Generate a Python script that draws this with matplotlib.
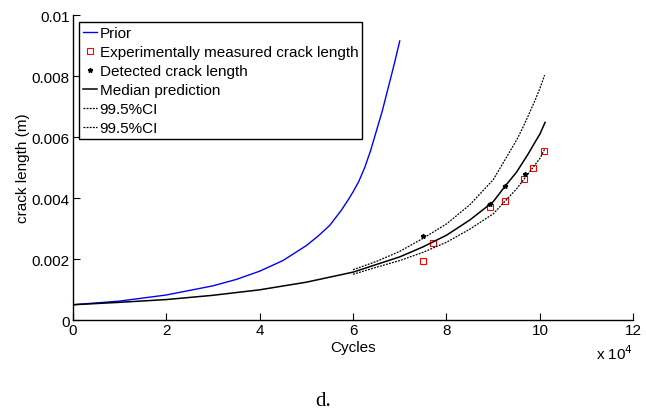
import numpy as np
import matplotlib
matplotlib.use("Agg")
import matplotlib.pyplot as plt

plt.rcParams['font.family'] = ['Liberation Sans', 'DejaVu Sans']

# cycles in units of 1e4, crack length in m
prior_n = [0, 1, 2, 3, 3.5, 4, 4.5, 5, 5.25, 5.5, 5.75, 5.9, 6.0, 6.125, 6.25,
           6.375, 6.5, 6.625, 6.75, 6.875, 7.0]
prior_a = [0.50e-3, 0.62e-3, 0.82e-3, 1.12e-3, 1.33e-3, 1.60e-3, 1.95e-3, 2.44e-3,
           2.75e-3, 3.10e-3, 3.60e-3, 3.95e-3, 4.20e-3, 4.55e-3, 5.00e-3,
           5.55e-3, 6.20e-3, 6.85e-3, 7.60e-3, 8.35e-3, 9.15e-3]

median_n = [0, 1, 2, 3, 4, 5, 6, 7, 7.5, 8, 8.5, 9, 9.25, 9.5, 9.75, 9.875, 10.0, 10.11]
median_a = [0.50e-3, 0.58e-3, 0.67e-3, 0.81e-3, 0.99e-3, 1.24e-3, 1.57e-3, 2.07e-3,
            2.40e-3, 2.78e-3, 3.28e-3, 3.88e-3, 4.38e-3, 4.85e-3, 5.45e-3, 5.78e-3,
            6.10e-3, 6.48e-3]

ci_n = [6, 6.5, 7, 7.5, 8, 8.5, 9, 9.25, 9.5, 9.625, 9.75, 9.875, 10.0, 10.1]
ci_up = [1.65e-3, 1.92e-3, 2.25e-3, 2.68e-3, 3.15e-3, 3.78e-3, 4.60e-3, 5.25e-3,
         5.90e-3, 6.28e-3, 6.70e-3, 7.13e-3, 7.60e-3, 8.03e-3]
ci_lo = [1.50e-3, 1.73e-3, 1.95e-3, 2.22e-3, 2.55e-3, 2.98e-3, 3.48e-3, 3.89e-3,
         4.30e-3, 4.55e-3, 4.80e-3, 5.05e-3, 5.30e-3, 5.60e-3]

meas_n = [7.50, 7.71, 8.94, 9.25, 9.66, 9.86, 10.09]
meas_a = [1.94e-3, 2.51e-3, 3.72e-3, 3.89e-3, 4.62e-3, 4.97e-3, 5.54e-3]

det_n = [7.50, 8.94, 9.26, 9.67]
det_a = [2.76e-3, 3.80e-3, 4.40e-3, 4.80e-3]

xticks = [0, 2, 4, 6, 8, 10, 12]
yticks = [0, 0.002, 0.004, 0.006, 0.008, 0.01]
ytick_labels = ["0", "0.002", "0.004", "0.006", "0.008", "0.01"]

fig = plt.figure(figsize=(6.46, 4.14), dpi=100)
ax = fig.add_axes([0.1125, 0.2246, 0.868, 0.7367])

ax.plot(prior_n, prior_a, color=(0, 0, 1), lw=1.0, label="Prior")
ax.plot(meas_n, meas_a, ls="none", marker="s", ms=3.8, mfc="none", mec="red",
        mew=0.8, label="Experimentally measured crack length")
ax.plot(det_n, det_a, ls="none", marker="*", ms=3.5, color="black",
        label="Detected crack length")
ax.plot(median_n, median_a, color="black", lw=1.1, label="Median prediction")
ax.plot(ci_n, ci_up, color="black", lw=0.9, ls=(0, (1.5, 1)), label="99.5%CI")
ax.plot(ci_n, ci_lo, color="black", lw=0.9, ls=(0, (1.5, 1)), label="99.5%CI")

ax.set_xlim(0, 12)
ax.set_ylim(0, 0.01)
ax.set_xticks(xticks)
ax.set_xticklabels([str(t) for t in xticks])
ax.set_yticks(yticks)
ax.set_yticklabels(ytick_labels)
ax.tick_params(direction="in", length=5, width=0.8, labelsize=11, pad=2)
for s in ["top", "right"]:
    ax.spines[s].set_visible(False)
for s in ["left", "bottom"]:
    ax.spines[s].set_linewidth(1.0)

ax.set_xlabel("Cycles", fontsize=11, labelpad=2)
ax.set_ylabel("crack length (m)", fontsize=11, labelpad=1)
ax.text(1.0, -0.075, r"x 10$^{4}$", transform=ax.transAxes, ha="right", va="top",
        fontsize=11)

leg = ax.legend(loc="upper left", bbox_to_anchor=(0.0112, 0.976), borderaxespad=0,
                fontsize=11, handlelength=0.9, handletextpad=0.2, labelspacing=0.33,
                borderpad=0.25, fancybox=False, framealpha=1, edgecolor="black")
leg.get_frame().set_linewidth(1.0)

fig.text(0.5, 0.03, "d.", ha="center", va="center", fontsize=15,
         family="Liberation Serif")

fig.savefig("out.png", dpi=100)
